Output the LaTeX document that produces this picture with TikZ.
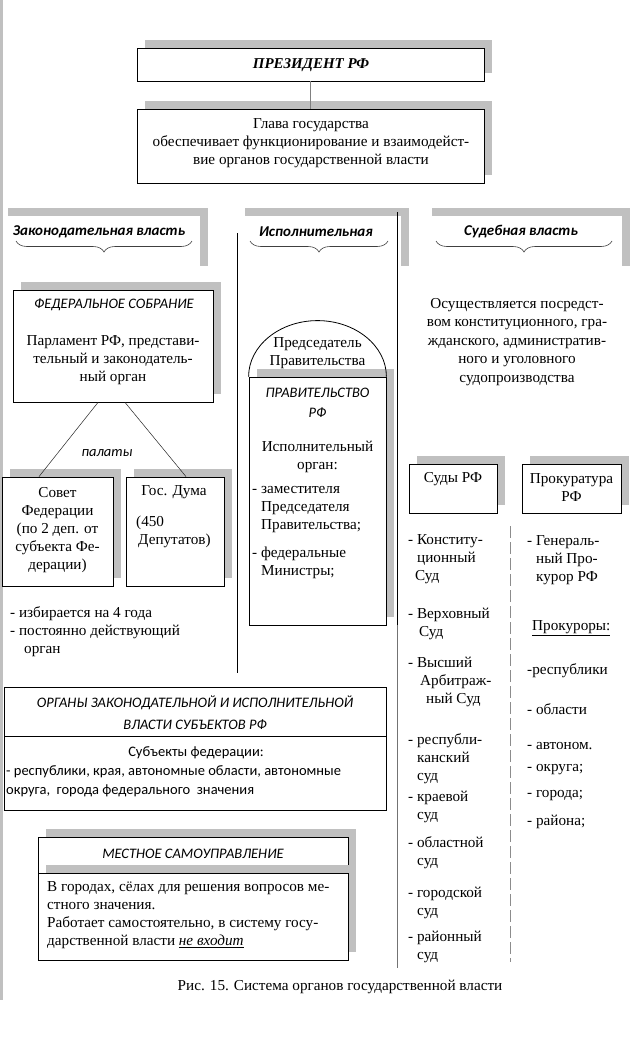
\documentclass[tikz,border=0pt]{standalone}
\usepackage{fontspec}
\setmainfont{Liberation Serif}
\newfontfamily\calibri{Carlito}
\usetikzlibrary{decorations.pathreplacing,shadows}
\definecolor{shadowgray}{RGB}{192,192,192}
\definecolor{conngray}{RGB}{128,128,128}
\begin{document}
\begin{tikzpicture}[x=1pt,y=-1pt,
  box/.style={draw, fill=white, line width=0.8pt, inner sep=0pt},
  sbox/.style={box, drop shadow={shadow xshift=8pt, shadow yshift=8pt, fill=shadowgray, opacity=1}},
  txt/.style={inner sep=0pt, font=\fontsize{15.2}{18}\selectfont, align=center},
  ltxt/.style={txt, align=left, anchor=west},
  cit/.style={inner sep=0pt, font=\calibri\itshape\fontsize{14.5}{20}\selectfont, align=center},
  creg/.style={inner sep=0pt, font=\calibri\fontsize{14.5}{19}\selectfont, align=center},
  head/.style={inner sep=0pt, font=\calibri\bfseries\itshape\fontsize{15}{18}\selectfont},
  bracestyle/.style={decorate, decoration={brace, amplitude=11pt}, line width=0.6pt, black!75},
  sepline/.style={line width=0.8pt},
  thinline/.style={line width=0.5pt, black!85},
  conn/.style={conngray, line width=1.8pt},
  dashline/.style={black!45, line width=0.6pt, dash pattern=on 12pt off 4pt}
]
\fill[white] (0,0) rectangle (641,1049);
\useasboundingbox (0,0) rectangle (641,1049);
\fill[shadowgray] (0,0) rectangle (3,1000);

% President
\node[sbox, minimum width=347pt, minimum height=33pt] (pres) at (310.5,64.5) {};
\node[txt, font=\bfseries\itshape\fontsize{15}{18}\selectfont] (prest) at (311,65) {ПРЕЗИДЕНТ РФ};
\node[sbox, minimum width=347pt, minimum height=74pt] (glava) at (310.5,146) {};
\node[txt] (glavat) at (311,143) {Глава государства\\обеспечивает функционирование и взаимодейст-\\вие органов государственной власти};
\draw[conn] (pres.south) -- (glava.north);

% Headings
\fill[shadowgray] (8,208) rectangle (208,216);
\fill[shadowgray] (200,208) rectangle (208,266);
\fill[shadowgray] (245,208) rectangle (409,216);
\fill[shadowgray] (401,208) rectangle (409,266);
\fill[shadowgray] (432,208) rectangle (630,216);
\fill[shadowgray] (622,208) rectangle (630,266);
\node[head] (hleg) at (99,232) {Законодательная власть};
\node[head] (hexe) at (316,232) {Исполнительная};
\node[head] (hjud) at (521,232) {Судебная власть};
\draw[bracestyle] (192,241) -- (16,241);
\draw[bracestyle] (388,241) -- (250,241);
\draw[bracestyle] (612,241) -- (436,241);

% Separators
\draw[sepline] (237,233) -- (237,673);
\draw[sepline] (397,212) -- (397,625);
\draw[sepline, black!55] (397,625) -- (397,968);

% Legislative
\node[sbox, minimum width=200pt, minimum height=112pt] (fs) at (113,346) {};
\node[cit] (fst) at (114,305) {ФЕДЕРАЛЬНОЕ СОБРАНИЕ};
\node[txt] (fsd) at (113,360) {Парламент РФ, представи-\\тельный и законодатель-\\ный орган};
\node[cit] (palaty) at (107,453) {палаты};
\node[sbox, minimum width=111pt, minimum height=109pt] (sovet) at (57.5,531.5) {};
\node[txt] (sovett) at (57.5,530) {Совет\\Федерации\\(по 2 деп. от\\субъекта Фе-\\дерации)};
\node[sbox, minimum width=98pt, minimum height=109pt] (duma) at (175,531.5) {};
\node[txt] (dumat) at (174,492) {Гос. Дума};
\node[ltxt] (dumad) at (136,532) {(450\\\hspace*{2pt}Депутатов)};
\draw[thinline] ([xshift=-15pt]fs.south) -- ([xshift=-18.5pt]sovet.north);
\draw[thinline] ([xshift=12pt]fs.south) -- ([xshift=11pt]duma.north);
\node[ltxt] (izb) at (10,632) {- избирается на 4 года\\- постоянно действующий\\\hspace*{14pt}орган};

% Executive
\node[sbox, minimum width=137pt, minimum height=248pt] (prav) at (317.5,501) {};
\draw[line width=0.8pt] (prav.north west) .. controls +(0,-30.9) and +(-37.8,0) .. ([yshift=56pt]prav.north) coordinate (archtop) .. controls +(37.8,0) and +(0,-30.9) .. (prav.north east);
\node[txt] (pred) at (317.5,353) {Председатель\\Правительства};
\node[cit] (pravt) at (317.5,403) {ПРАВИТЕЛЬСТВО\\РФ};
\node[txt] (ispo) at (317.5,457) {Исполнительный\\орган:};
\node[ltxt] (zam) at (252,510) {- заместителя\\\hspace*{9pt}Председателя\\\hspace*{9pt}Правительства;};
\node[ltxt] (fedm) at (252,563) {- федеральные\\\hspace*{9pt}Министры;};

% Subjects
\node[box, minimum width=382pt, minimum height=49pt] (org) at (195,711.5) {};
\node[box, minimum width=382pt, minimum height=74pt] (orgb) at (195,773) {};
\node[cit, font=\calibri\itshape\fontsize{14.5}{22}\selectfont] (orgt) at (195,713) {ОРГАНЫ ЗАКОНОДАТЕЛЬНОЙ И ИСПОЛНИТЕЛЬНОЙ\\ВЛАСТИ СУБЪЕКТОВ РФ};
\node[creg] (subt) at (196,753) {Субъекты федерации:};
\node[creg, align=left, anchor=west] (subl) at (6,781) {- республики, края, автономные области, автономные\\округа,\ \ города федерального\ \ значения};

% Local
\node[sbox, minimum width=310pt, minimum height=36pt] (mes) at (193,855) {};
\node[sbox, minimum width=310pt, minimum height=87pt] (mesb) at (193,916.5) {};
\node[cit] (mest) at (193,854) {МЕСТНОЕ САМОУПРАВЛЕНИЕ};
\node[ltxt] (mesd) at (47,915) {В городах, сёлах для решения вопросов ме-\\стного значения.\\Работает самостоятельно, в систему госу-\\дарственной власти \underline{\textit{не входит}}};

% Judicial
\node[txt, font=\fontsize{15.2}{18.5}\selectfont] (osu) at (517,342) {Осуществляется посредст-\\вом\ конституционного, гра-\\жданского, административ-\\ного и уголовного\\судопроизводства};
\node[sbox, minimum width=88pt, minimum height=49pt] (sudy) at (453,488.5) {};
\node[txt] (sudyt) at (453,479) {Суды РФ};
\node[sbox, minimum width=99pt, minimum height=49pt] (prok) at (571.5,488.5) {};
\node[txt] (prokt) at (571.5,488) {Прокуратура\\РФ};
\draw[dashline] (510,526) -- (510,962);

\node[ltxt] (c1) at (408,559) {- Конститу-\\\hspace*{9pt}ционный\\\hspace*{7pt}Суд};
\node[ltxt] (c2) at (408,624) {- Верховный\\\hspace*{11pt}Суд};
\node[ltxt] (c3) at (408,682) {- Высший\\\hspace*{12pt}Арбитраж-\\\hspace*{18pt}ный Суд};
\node[ltxt] (c4) at (408,759) {- республи-\\\hspace*{9pt}канский\\\hspace*{9pt}суд};
\node[ltxt] (c5) at (408,807) {- краевой\\\hspace*{9pt}суд};
\node[ltxt] (c6) at (408,853) {- областной\\\hspace*{9pt}суд};
\node[ltxt] (c7) at (408,903) {- городской\\\hspace*{9pt}суд};
\node[ltxt] (c8) at (408,947) {- районный\\\hspace*{9pt}суд};

\node[ltxt] (p1) at (527,560) {- Генераль-\\\hspace*{9pt}ный Про-\\\hspace*{9pt}курор РФ};
\node[ltxt] (p2) at (532,628) {\underline{Прокуроры:}};
\node[ltxt] (p3) at (527,671) {-республики};
\node[ltxt] (p4) at (527,709) {- области};
\node[ltxt] (p5) at (527,746) {- автоном.};
\node[ltxt] (p6) at (527,770) {- округа;};
\node[ltxt] (p7) at (527,796) {- города;};
\node[ltxt] (p8) at (527,822) {- района;};

% Caption
\node[txt] (cap) at (340,987) {Рис. 15. Система органов государственной власти};
\end{tikzpicture}
\end{document}
